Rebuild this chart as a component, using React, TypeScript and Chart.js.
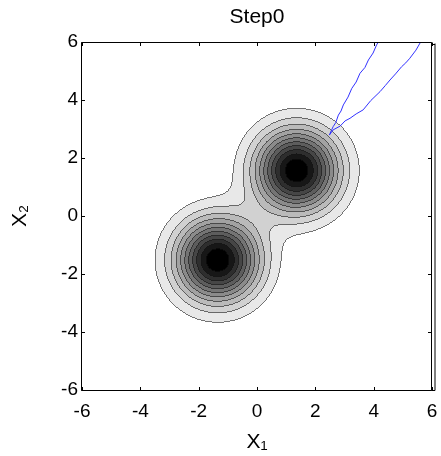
import React, { useEffect, useRef } from "react";
import { Chart, registerables } from "chart.js";

Chart.register(...registerables);

// ---- data ----
const xTickValues = [-6, -4, -2, 0, 2, 4, 6];
const yTickValues = [-6, -4, -2, 0, 2, 4, 6];
const axisMin = -6;
const axisMax = 6;
const titleText = "Step0";
const xLabel = "X\u2081";
const yLabel = "X\u2082";

// two gaussian components of the density shown as filled contours
const compMeanX = [-1.35, 1.36];
const compMeanY = [-1.52, 1.57];
const compSigma = [0.97, 0.97];
const compWeight = [1.0, 1.0];
// contour levels (density values) and region fill grays
const contourLevels = [0.0833, 0.1667, 0.25, 0.3333, 0.4167, 0.5, 0.5833, 0.6667, 0.75, 0.8333, 0.9167];
const fillGrays = [255, 232, 209, 186, 162, 139, 116, 93, 70, 46, 23, 0];

// blue trajectories
const pathAX = [2.48, 2.55, 2.61, 2.7, 2.79, 2.88, 2.96, 3.12, 3.25, 3.4, 3.53, 3.7, 3.82, 3.98, 4.1, 4.16];
const pathAY = [2.79, 2.95, 3.08, 3.22, 3.48, 3.62, 3.83, 4.1, 4.4, 4.62, 4.92, 5.12, 5.38, 5.62, 5.9, 6.0];
const pathBX = [2.48, 2.61, 2.85, 3.02, 3.19, 3.4, 3.64, 3.9, 4.22, 4.4, 4.56, 4.75, 4.96, 5.1, 5.24, 5.45, 5.61];
const pathBY = [2.79, 2.97, 3.1, 3.28, 3.37, 3.52, 3.66, 3.98, 4.29, 4.5, 4.69, 4.9, 5.15, 5.28, 5.44, 5.72, 6.0];

const FONT = '"Liberation Sans", Arial, Helvetica, sans-serif';

const contourPlugin = {
  id: "contourFill",
  beforeDatasetsDraw(chart: any) {
    const { ctx, chartArea, scales } = chart;
    const x0 = Math.round(chartArea.left);
    const y0 = Math.round(chartArea.top);
    const w = Math.round(chartArea.right) - x0;
    const h = Math.round(chartArea.bottom) - y0;
    const idx = new Int8Array(w * h);
    for (let j = 0; j < h; j++) {
      const dy = scales.y.getValueForPixel(y0 + j + 0.5);
      for (let i = 0; i < w; i++) {
        const dx = scales.x.getValueForPixel(x0 + i + 0.5);
        let d = 0;
        for (let k = 0; k < compMeanX.length; k++) {
          const ex = dx - compMeanX[k];
          const ey = dy - compMeanY[k];
          d += compWeight[k] * Math.exp(-(ex * ex + ey * ey) / (2 * compSigma[k] * compSigma[k]));
        }
        let lv = 0;
        while (lv < contourLevels.length && d >= contourLevels[lv]) lv++;
        idx[j * w + i] = lv;
      }
    }
    const img = ctx.createImageData(w, h);
    const data = img.data;
    for (let j = 0; j < h; j++) {
      for (let i = 0; i < w; i++) {
        const p = j * w + i;
        const lv = idx[p];
        let g = fillGrays[lv];
        if (lv > 0) {
          let mn = lv;
          if (i > 0) mn = Math.min(mn, idx[p - 1]);
          if (i < w - 1) mn = Math.min(mn, idx[p + 1]);
          if (j > 0) mn = Math.min(mn, idx[p - w]);
          if (j < h - 1) mn = Math.min(mn, idx[p + w]);
          if (mn < lv) g = Math.round(fillGrays[mn] * 0.45);
        }
        data[p * 4] = g;
        data[p * 4 + 1] = g;
        data[p * 4 + 2] = g;
        data[p * 4 + 3] = 255;
      }
    }
    ctx.putImageData(img, x0, y0);
  },
};

const framePlugin = {
  id: "matlabFrame",
  afterDraw(chart: any) {
    const { ctx, chartArea, scales } = chart;
    const L = Math.round(chartArea.left) - 0.5;
    const R = Math.round(chartArea.right) - 0.5;
    const T = Math.round(chartArea.top) + 0.5;
    const B = Math.round(chartArea.bottom) + 0.5;
    const tl = 3.5;
    ctx.save();
    ctx.strokeStyle = "#000";
    ctx.lineWidth = 1;
    ctx.beginPath();
    ctx.rect(L, T, R - L, B - T);
    ctx.stroke();
    ctx.beginPath();
    for (const v of xTickValues) {
      const px = Math.round(scales.x.getPixelForValue(v)) + 0.5;
      ctx.moveTo(px, B);
      ctx.lineTo(px, B - tl);
      ctx.moveTo(px, T);
      ctx.lineTo(px, T + tl);
    }
    for (const v of yTickValues) {
      const py = Math.round(scales.y.getPixelForValue(v)) + 0.5;
      ctx.moveTo(L, py);
      ctx.lineTo(L + tl, py);
      ctx.moveTo(R, py);
      ctx.lineTo(R - tl, py);
    }
    // extra thin box edge on the right (as in the reference)
    const R2 = R + 3.5;
    ctx.moveTo(R, T + 2);
    ctx.lineTo(R2, T + 2);
    ctx.moveTo(R2, T + 1);
    ctx.lineTo(R2, B);
    ctx.lineTo(R, B);
    ctx.stroke();
    // title
    ctx.fillStyle = "#000";
    ctx.font = `21px ${FONT}`;
    ctx.textAlign = "center";
    ctx.textBaseline = "middle";
    ctx.fillText(titleText, (chartArea.left + chartArea.right) / 2, 17.5);
    ctx.restore();
  },
};

export default function App() {
  const canvasRef = useRef<HTMLCanvasElement | null>(null);

  useEffect(() => {
    const canvas = canvasRef.current;
    if (!canvas) return;
    const lineStyle = {
      showLine: true,
      pointRadius: 0,
      borderColor: "rgb(50,50,255)",
      borderWidth: 1,
      fill: false,
      tension: 0,
    };
    const chart = new Chart(canvas, {
      type: "scatter",
      data: {
        datasets: [
          { ...lineStyle, data: pathAX.map((x, i) => ({ x, y: pathAY[i] })) },
          { ...lineStyle, data: pathBX.map((x, i) => ({ x, y: pathBY[i] })) },
        ],
      },
      options: {
        animation: false,
        responsive: false,
        devicePixelRatio: 1,
        layout: { padding: { top: 42, right: 9, bottom: 0, left: 0 } },
        plugins: {
          legend: { display: false },
          tooltip: { enabled: false },
          title: { display: false },
        },
        scales: {
          x: {
            type: "linear",
            min: axisMin,
            max: axisMax,
            afterBuildTicks: (s: any) => {
              s.ticks = xTickValues.map((v) => ({ value: v }));
            },
            ticks: {
              font: { family: FONT, size: 19 },
              color: "#000",
              padding: 10,
              maxRotation: 0,
              autoSkip: false,
              callback: (v: any) => String(v),
            },
            grid: { display: false, drawTicks: false },
            border: { display: false },
            title: {
              display: true,
              text: xLabel,
              color: "#000",
              font: { family: FONT, size: 21 },
              padding: { top: 0, bottom: 1 },
            },
            afterFit: (s: any) => {
              s.height = 66;
              s.paddingLeft = 0;
              s.paddingRight = 0;
            },
          },
          y: {
            type: "linear",
            min: axisMin,
            max: axisMax,
            afterBuildTicks: (s: any) => {
              s.ticks = yTickValues.map((v) => ({ value: v }));
            },
            ticks: {
              font: { family: FONT, size: 19 },
              color: "#000",
              padding: 4,
              autoSkip: false,
              callback: (v: any) => String(v),
            },
            grid: { display: false, drawTicks: false },
            border: { display: false },
            title: {
              display: true,
              text: yLabel,
              color: "#000",
              font: { family: FONT, size: 21 },
              padding: { top: 8, bottom: 0 },
            },
            afterFit: (s: any) => {
              s.width = 82;
              s.paddingTop = 0;
              s.paddingBottom = 0;
            },
          },
        },
      } as any,
      plugins: [contourPlugin, framePlugin],
    });
    return () => chart.destroy();
  }, []);

  return (
    <div style={{ position: "fixed", left: 0, top: 0, width: 441, height: 456, background: "#fff" }}>
      <canvas ref={canvasRef} width={441} height={456} style={{ width: 441, height: 456, display: "block" }} />
    </div>
  );
}
